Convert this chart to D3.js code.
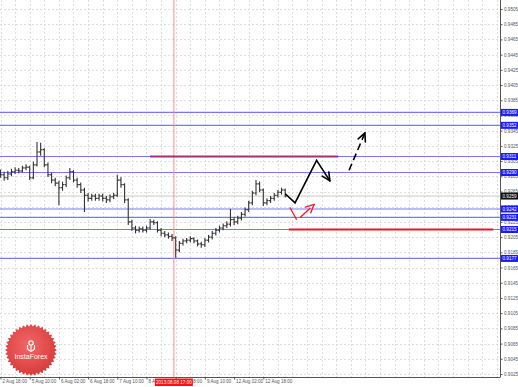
<!DOCTYPE html>
<html><head><meta charset="utf-8">
<script src="https://cdn.jsdelivr.net/npm/d3@7"></script>
<style>body{margin:0;background:#fff}svg{display:block;font-family:"Liberation Sans",Arial,sans-serif}</style>
</head><body><svg id="c" width="518" height="387"></svg>
<script>
// ---- data (2-hour bars starting 2 Aug 18:00) ----
const openP  = [0.9290,0.9287,0.9283,0.9288,0.9291,0.9293,0.9292,0.9296,0.9297,0.9283,0.9300,0.9317,0.9320,0.9300,0.9287,0.9280,0.9276,0.9270,0.9274,0.9283,0.9291,0.9280,0.9274,0.9267,0.9260,0.9256,0.9259,0.9256,0.9259,0.9256,0.9254,0.9258,0.9260,0.9280,0.9274,0.9254,0.9225,0.9217,0.9214,0.9216,0.9214,0.9217,0.9225,0.9224,0.9214,0.9210,0.9208,0.9206,0.9204,0.9188,0.9197,0.9200,0.9201,0.9203,0.9200,0.9196,0.9195,0.9201,0.9205,0.9210,0.9214,0.9217,0.9220,0.9222,0.9228,0.9225,0.9230,0.9235,0.9241,0.9250,0.9263,0.9275,0.9267,0.9250,0.9253,0.9256,0.9260,0.9264,0.9267];
const highP  = [0.9294,0.9291,0.9292,0.9295,0.9297,0.9296,0.9299,0.9301,0.9299,0.9304,0.9330,0.9329,0.9322,0.9303,0.9290,0.9283,0.9279,0.9278,0.9286,0.9296,0.9293,0.9283,0.9277,0.9270,0.9263,0.9262,0.9262,0.9262,0.9262,0.9259,0.9261,0.9263,0.9287,0.9284,0.9276,0.9256,0.9228,0.9220,0.9219,0.9219,0.9220,0.9229,0.9228,0.9226,0.9217,0.9213,0.9211,0.9209,0.9206,0.9200,0.9203,0.9204,0.9206,0.9205,0.9202,0.9199,0.9204,0.9208,0.9213,0.9217,0.9220,0.9223,0.9226,0.9242,0.9231,0.9233,0.9238,0.9244,0.9253,0.9266,0.9280,0.9278,0.9269,0.9256,0.9259,0.9263,0.9267,0.9270,0.9269];
const lowP   = [0.9283,0.9279,0.9280,0.9285,0.9288,0.9289,0.9290,0.9293,0.9280,0.9281,0.9298,0.9312,0.9297,0.9284,0.9276,0.9272,0.9247,0.9266,0.9271,0.9280,0.9277,0.9270,0.9263,0.9238,0.9252,0.9253,0.9253,0.9253,0.9252,0.9250,0.9251,0.9255,0.9258,0.9270,0.9250,0.9221,0.9213,0.9210,0.9211,0.9211,0.9211,0.9215,0.9221,0.9211,0.9206,0.9205,0.9203,0.9200,0.9178,0.9185,0.9194,0.9197,0.9198,0.9197,0.9193,0.9191,0.9192,0.9198,0.9202,0.9207,0.9211,0.9214,0.9217,0.9219,0.9221,0.9222,0.9227,0.9232,0.9238,0.9247,0.9260,0.9264,0.9246,0.9247,0.9250,0.9253,0.9257,0.9261,0.9257];
const closeP = [0.9287,0.9283,0.9288,0.9291,0.9293,0.9292,0.9296,0.9297,0.9283,0.9300,0.9317,0.9320,0.9300,0.9287,0.9280,0.9276,0.9270,0.9274,0.9283,0.9291,0.9280,0.9274,0.9267,0.9260,0.9256,0.9259,0.9256,0.9259,0.9256,0.9254,0.9258,0.9260,0.9280,0.9274,0.9254,0.9225,0.9217,0.9214,0.9216,0.9214,0.9217,0.9225,0.9224,0.9214,0.9210,0.9208,0.9206,0.9204,0.9188,0.9197,0.9200,0.9201,0.9203,0.9200,0.9196,0.9195,0.9201,0.9205,0.9210,0.9214,0.9217,0.9220,0.9222,0.9228,0.9225,0.9230,0.9235,0.9241,0.9250,0.9263,0.9275,0.9267,0.9250,0.9253,0.9256,0.9260,0.9264,0.9267,0.9259];
const barHours = d3.range(0, 158, 2);

const priceTicks = [0.9505,0.9485,0.9465,0.9445,0.9425,0.9405,0.9385,0.9365,0.9345,0.9325,0.9305,0.9285,0.9265,0.9245,0.9225,0.9205,0.9185,0.9165,0.9145,0.9125,0.9105,0.9085,0.9065,0.9045,0.9025];
const priceTickLabels = ["0.9505","0.9485","0.9465","0.9445","0.9425","0.9405","0.9385","0.9365","0.9345","0.9325","0.9305","0.9285","0.9265","0.9245","0.9225","0.9205","0.9185","0.9165","0.9145","0.9125","0.9105","0.9085","0.9065","0.9045","0.9025"];
const timeTickHours = [0,16,32,48,64,80,96,112,128,144];
const timeTickLabels = ["2 Aug 18:00","5 Aug 10:00","6 Aug 02:00","6 Aug 18:00","7 Aug 10:00","8 Aug 02:00","8 Aug 18:00","9 Aug 10:00","12 Aug 02:00","12 Aug 18:00"];
const gridHours = d3.range(0, 280, 8);

const levels = [0.9369,0.9352,0.9311,0.9290,0.9242,0.9231,0.9215,0.9177];
const levelLabels = ["0.9369","0.9352","0.9311","0.9290","0.9242","0.9231","0.9215","0.9177"];
const bidPrice = 0.9259, bidLabel = "0.9259";
const markerHour = 95, markerLabel = "2013.08.08 17:00";
const magentaSeg = [[82,0.9311],[185,0.9311]];
const redSeg = [[158,0.9215],[270,0.9215]];
const pathSolid = [[156,0.9262],[161.4,0.9250],[173.2,0.9306],[180.5,0.9279]];
const pathDashed = [[191,0.9293],[199.7,0.9342]];
const pathRed = [[158.6,0.9244],[162.5,0.9227],[171.8,0.9248]];

// ---- chart ----
const W = 500, H = 377;
const svg = d3.select("#c");
const x = d3.scaleLinear().domain([0, 273.7]).range([0.5, 500]);
const y = d3.scaleLinear().domain([0.9505, 0.9025]).range([9, 374]);

const defs = svg.append("defs");
defs.append("clipPath").attr("id","clip").append("rect").attr("x",0).attr("y",0).attr("width",W).attr("height",H);
const rg = defs.append("radialGradient").attr("id","lg").attr("cx","45%").attr("cy","40%").attr("r","60%");
rg.append("stop").attr("offset","0%").attr("stop-color","#f25b5b");
rg.append("stop").attr("offset","100%").attr("stop-color","#d42a2a");

const plot = svg.append("g").attr("clip-path","url(#clip)");

// grid
plot.selectAll(".hg").data(priceTicks).join("line")
  .attr("x1",0).attr("x2",W).attr("y1",d=>Math.round(y(d))+0.5).attr("y2",d=>Math.round(y(d))+0.5)
  .attr("stroke","#dedede").attr("stroke-dasharray","2,2").attr("stroke-width",1);
plot.selectAll(".vg").data(gridHours).join("line")
  .attr("y1",0).attr("y2",H).attr("x1",d=>Math.round(x(d))+0.5).attr("x2",d=>Math.round(x(d))+0.5)
  .attr("stroke","#dedede").attr("stroke-dasharray","2,2").attr("stroke-width",1);

// bid line
plot.append("line").attr("x1",0).attr("x2",W).attr("y1",y(bidPrice)).attr("y2",y(bidPrice))
  .attr("stroke","#c8c8c8").attr("stroke-width",1);

// level lines
plot.selectAll(".lv").data(levels).join("line")
  .attr("x1",0).attr("x2",W).attr("y1",d=>y(d)).attr("y2",d=>y(d))
  .attr("stroke","#7878f6").attr("stroke-width",1.2);

// vertical marker
plot.append("line").attr("x1",x(markerHour)).attr("x2",x(markerHour)).attr("y1",0).attr("y2",H)
  .attr("stroke","#ff8c8c").attr("stroke-width",1);

// magenta and red segments
const line = d3.line().x(d=>x(d[0])).y(d=>y(d[1]));
plot.append("path").attr("d",line(magentaSeg)).attr("stroke","#a0307a").attr("stroke-width",2.2).attr("fill","none");
plot.append("path").attr("d",line(redSeg)).attr("stroke","#e8182a").attr("stroke-width",2.2).attr("fill","none");

// bars
const bars = plot.append("g");
barHours.forEach((h,i)=>{
  const cx = x(h);
  bars.append("line").attr("x1",cx).attr("x2",cx).attr("y1",y(highP[i])).attr("y2",y(lowP[i]))
    .attr("stroke","#333").attr("stroke-width",1.1);
  bars.append("line").attr("x1",cx-1.7).attr("x2",cx).attr("y1",y(openP[i])).attr("y2",y(openP[i]))
    .attr("stroke","#333").attr("stroke-width",1.1);
  bars.append("line").attr("x1",cx).attr("x2",cx+1.7).attr("y1",y(closeP[i])).attr("y2",y(closeP[i]))
    .attr("stroke","#333").attr("stroke-width",1.1);
});

function arrowHead(g, pts, color, w){
  const a = pts[pts.length-2], b = pts[pts.length-1];
  const x1=x(a[0]), y1=y(a[1]), x2=x(b[0]), y2=y(b[1]);
  const ang = Math.atan2(y2-y1, x2-x1), L = 9, sp = 0.45;
  [ang+Math.PI-sp, ang+Math.PI+sp].forEach(t=>{
    g.append("line").attr("x1",x2).attr("y1",y2).attr("x2",x2+L*Math.cos(t)).attr("y2",y2+L*Math.sin(t))
      .attr("stroke",color).attr("stroke-width",w).attr("stroke-linecap","round");
  });
}
const ann = plot.append("g");
ann.append("path").attr("d",line(pathSolid)).attr("stroke","#000").attr("stroke-width",1.6).attr("fill","none").attr("stroke-linejoin","miter");
arrowHead(ann, pathSolid, "#000", 1.6);
ann.append("path").attr("d",line(pathDashed)).attr("stroke","#000").attr("stroke-width",1.6).attr("fill","none").attr("stroke-dasharray","7,4");
arrowHead(ann, pathDashed, "#000", 1.6);
ann.append("path").attr("d",line(pathRed)).attr("stroke","#f0202a").attr("stroke-width",1.4).attr("fill","none").attr("stroke-dasharray","14,5");
arrowHead(ann, pathRed, "#f0202a", 1.4);

// logo
const logo = svg.append("g").attr("transform","translate(31,350)");
const nPts = 40, ro = 26, ri = 23.5;
const star = d3.range(nPts*2).map(k=>{const r = k%2?ri:ro; const t = k*Math.PI/nPts; return [r*Math.sin(t), -r*Math.cos(t)];});
logo.append("path").attr("d","M"+star.map(p=>p.join(",")).join("L")+"Z").attr("fill","url(#lg)").attr("opacity",0.92);
logo.append("circle").attr("cx",0).attr("cy",-7).attr("r",2.2).attr("fill","none").attr("stroke","#fff").attr("stroke-width",1.2);
logo.append("path").attr("d","M-3.5,-5 L-3.5,-1 L-1,1 L1,1 L3.5,-1 L3.5,-5 M0,-4 L0,2").attr("stroke","#fff").attr("stroke-width",1.1).attr("fill","none");
logo.append("text").attr("x",0).attr("y",9).attr("text-anchor","middle").attr("fill","#fff").attr("font-size",7).text("InstaForex");

// frame
svg.append("line").attr("x1",W+0.5).attr("x2",W+0.5).attr("y1",0).attr("y2",H).attr("stroke","#555").attr("stroke-width",1);
svg.append("line").attr("x1",0).attr("x2",W+0.5).attr("y1",H+0.5).attr("y2",H+0.5).attr("stroke","#555").attr("stroke-width",1);

// y axis
const yAxis = d3.axisRight(y).tickValues(priceTicks).tickSize(2).tickPadding(1.5).tickFormat((d,i)=>priceTickLabels[i]);
const gy = svg.append("g").attr("transform",`translate(${W+0.5},0)`).call(yAxis);
gy.select(".domain").remove();
gy.selectAll("text").attr("font-size",4.6).attr("fill","#555").attr("font-family","Liberation Sans, Arial, sans-serif");
gy.selectAll("line").attr("stroke","#555");

// x axis
const xAxis = d3.axisBottom(x).tickValues(timeTickHours).tickSize(2).tickFormat((d,i)=>timeTickLabels[i]);
const gx = svg.append("g").attr("transform",`translate(0,${H+0.5})`).call(xAxis);
gx.select(".domain").remove();
gx.selectAll("text").attr("font-size",4.6).attr("fill","#555").attr("text-anchor","start").attr("dx",1.5).attr("dy","0.1em").attr("font-family","Liberation Sans, Arial, sans-serif");
gx.selectAll("line").attr("stroke","#555");

// level price labels
const lab = svg.append("g");
levels.forEach((p,i)=>{
  lab.append("rect").attr("x",W+1).attr("y",y(p)-3.5).attr("width",17).attr("height",7).attr("fill","#1a1aff");
  lab.append("text").attr("x",W+2.5).attr("y",y(p)+1.7).attr("font-size",4.6).attr("fill","#fff").text(levelLabels[i]);
});
lab.append("rect").attr("x",W+1).attr("y",y(bidPrice)-3.5).attr("width",17).attr("height",7).attr("fill","#111");
lab.append("text").attr("x",W+2.5).attr("y",y(bidPrice)+1.7).attr("font-size",4.6).attr("fill","#fff").text(bidLabel);

// time marker label
const mx = x(markerHour);
svg.append("rect").attr("x",mx-19).attr("y",H+1.5).attr("width",38).attr("height",7.5).attr("fill","#ff1010");
svg.append("text").attr("x",mx).attr("y",H+7.2).attr("text-anchor","middle").attr("font-size",4.6).attr("fill","#fff").text(markerLabel);
</script></body></html>
